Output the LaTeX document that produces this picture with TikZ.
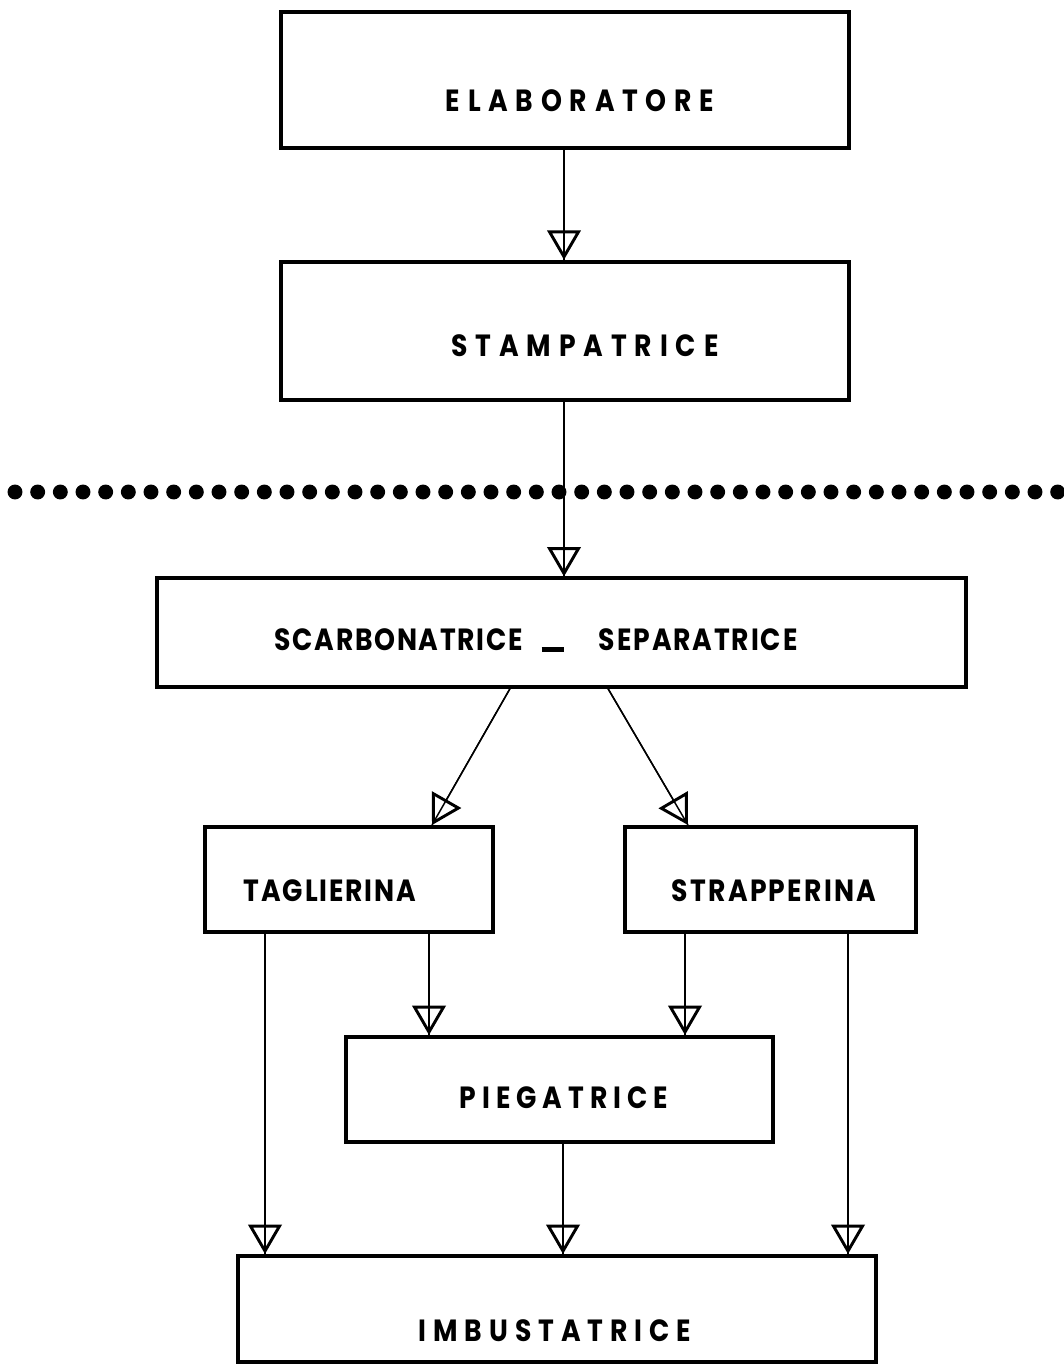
\documentclass[tikz,border=0pt]{standalone}
\usepackage{fontspec}
\usepackage{graphicx}
\usetikzlibrary{arrows.meta}
\newfontfamily\labfont{Poppins}[BoldFont={* Bold}]
\makeatletter
\newcommand\lsp[2]{\def\lsp@sep{}\@tfor\lsp@c:=#2\do{\lsp@sep\lsp@c\def\lsp@sep{\hspace{#1}}}}
\makeatother
\newcommand\tallbox[1]{\scalebox{1}[1.15]{#1}}
\tikzset{
  box/.style={draw, line width=3pt, inner sep=0pt, rectangle},
  lab/.style={inner sep=0pt, anchor=center, font=\labfont\bfseries\fontsize{20pt}{20pt}\selectfont},
  arr/.style={line width=1.1pt, -{Triangle[open,length=22pt,width=25pt,line width=2.2pt]}, postaction={draw,-}},
}
\begin{document}
\begin{tikzpicture}[x=0.75pt,y=-0.75pt]
\useasboundingbox (0,0) rectangle (1064,1365);
% boxes
\node[box, line width=3.4pt, minimum width=426pt, minimum height=102pt] (elab) at (565,80) {};
\node[box, line width=3.4pt, minimum width=426pt, minimum height=103.5pt] (stamp) at (565,331) {};
\node[box, line width=2.4pt, minimum width=606.75pt, minimum height=81.75pt] (scarb) at (561.5,632.5) {};
\node[box, minimum width=216pt, minimum height=78.75pt] (tag) at (349,879.5) {};
\node[box, minimum width=218.25pt, minimum height=78.75pt] (strap) at (770.5,879.5) {};
\node[box, minimum width=320.25pt, minimum height=78.75pt] (pieg) at (559.5,1089.5) {};
\node[box, minimum width=478.5pt, minimum height=79.5pt] (imb) at (557,1309) {};
% labels
\node[lab] (elabt) at (580,101) {\tallbox{\lsp{5.8pt}{ELABORATORE}}};
\node[lab] (stampt) at (585,346) {\tallbox{\lsp{5.9pt}{STAMPATRICE}}};
\node[lab] (scarbt) at (536,640) {\tallbox{\lsp{1.3pt}{SCARBONATRICE}\hspace{14pt}\rule[-1pt]{17pt}{3pt}\hspace{26pt}\lsp{1.4pt}{SEPARATRICE}}};
\node[lab] (tagt) at (330,891) {\tallbox{\lsp{1.4pt}{TAGLIERINA}}};
\node[lab] (strapt) at (774,891) {\tallbox{\lsp{1.7pt}{STRAPPERINA}}};
\node[lab] (piegt) at (564,1098) {\tallbox{\lsp{4.5pt}{PIEGATRICE}}};
\node[lab] (imbt) at (555,1331) {\tallbox{\lsp{5.2pt}{IMBUSTATRICE}}};
% dotted line
\draw[line width=11.2pt, line cap=round, dash pattern=on 0pt off 17pt] (15,492) -- (1075,492);
% connectors
\draw[arr] (564,0 |- elab.south) -- (564,0 |- stamp.north);
\draw[arr] (564,0 |- stamp.south) -- (564,0 |- scarb.north);
\draw[arr] (510,0 |- scarb.south) -- (432,0 |- tag.north);
\draw[arr] (608,0 |- scarb.south) -- (688,0 |- strap.north);
\draw[arr] (265,0 |- tag.south) -- (265,0 |- imb.north);
\draw[arr] (429,0 |- tag.south) -- (429,0 |- pieg.north);
\draw[arr] (685,0 |- strap.south) -- (685,0 |- pieg.north);
\draw[arr] (848,0 |- strap.south) -- (848,0 |- imb.north);
\draw[arr] (563,0 |- pieg.south) -- (563,0 |- imb.north);
\end{tikzpicture}
\end{document}
